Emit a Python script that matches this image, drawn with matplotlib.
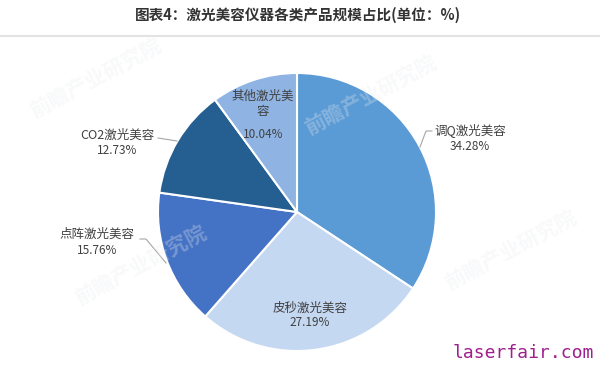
import matplotlib
matplotlib.use('Agg')
import matplotlib.pyplot as plt

plt.rcParams['font.family'] = ['Noto Sans CJK SC', 'DejaVu Sans']

# Data
categories = ['调Q激光美容', '皮秒激光美容', '点阵激光美容', 'CO2激光美容', '其他激光美容']
shares = [34.28, 27.19, 15.76, 12.73, 10.04]
colors = ['#5B9BD5', '#C5D8F1', '#4472C4', '#255E91', '#8FB4E3']
label_lines = ['调Q激光美容', '皮秒激光美容', '点阵激光美容', 'CO2激光美容', '其他激光美\n容']

W, H = 600, 386
fig = plt.figure(figsize=(6.0, 3.86), dpi=100)
ax = fig.add_axes([0, 0, 1, 1])


def py(y):
    # pixel row (from top) -> data y
    return H - y


cx, cy, r = 297, 212, 139
ax.pie(shares, colors=colors, startangle=90, counterclock=False,
       center=(cx, py(cy)), radius=r,
       wedgeprops=dict(edgecolor='white', linewidth=1.5))
ax.set_xlim(0, W)
ax.set_ylim(0, H)
ax.set_aspect('equal')
ax.axis('off')

# faint watermarks
for (wx, wy) in [(95, 78), (370, 95), (140, 265), (510, 250)]:
    ax.text(wx, py(wy), '前瞻产业研究院', fontsize=15, fontweight='bold',
            color='#E9EBEF', alpha=0.3, rotation=28, ha='center', va='center',
            zorder=3)

# title and rule
ax.text(298, py(15), '图表4：激光美容仪器各类产品规模占比(单位：%)', fontsize=10.5,
        fontweight='bold', color='#333333', ha='center', va='center')
ax.plot([0, W], [py(36), py(36)], color='#E3E3E3', lw=1.5)

# labels: (name x, name y, pct y)
label_pos = [(470, 130, 146), (310, 308, 322), (97, 234, 250),
             (117, 135, 150), (263, 104, 135)]
for lab, pct, (lx, ly, pyy) in zip(label_lines, shares, label_pos):
    ax.text(lx, py(ly), lab, fontsize=9, color='#404040', ha='center',
            va='center', linespacing=1.25, zorder=4)
    ax.text(lx, py(pyy), f'{pct:.2f}%', fontsize=8.5, color='#404040',
            ha='center', va='center', zorder=4)

# leader lines
leaders = [
    [(432, 131), (426, 131), (420, 147)],
    [(140, 239), (146, 239), (166, 263)],
    [(158, 138), (177, 141)],
]
for pts in leaders:
    ax.plot([p[0] for p in pts], [py(p[1]) for p in pts], color='#A6A6A6', lw=0.8)

ax.text(523, py(353), 'laserfair.com', fontsize=13, color='#9E1F8E',
        family='DejaVu Sans Mono', ha='center', va='center')

fig.savefig('out.png', dpi=100, facecolor='white')
